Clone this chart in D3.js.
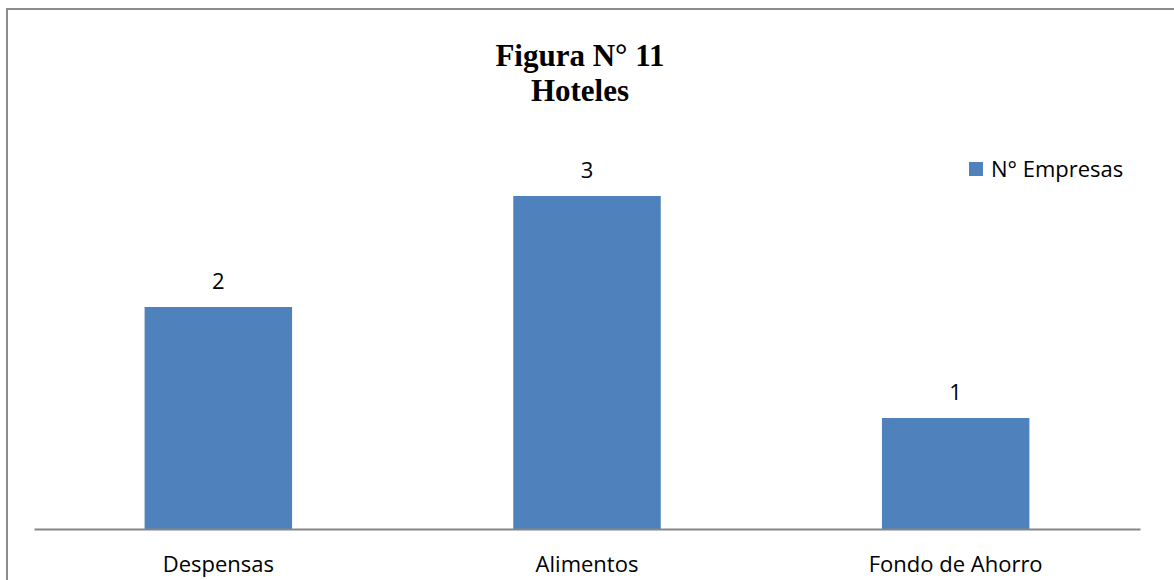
<!DOCTYPE html>
<html><head><meta charset="utf-8">
<script src="https://cdn.jsdelivr.net/npm/d3@7"></script>
<style>body{margin:0;background:#fff}</style>
</head><body>
<svg id="c" width="1174" height="580"></svg>
<script>
const categories = ["Despensas", "Alimentos", "Fondo de Ahorro"];
const values = [2, 3, 1];
const seriesName = "N° Empresas";
const titleLines = ["Figura N° 11", "Hoteles"];

const svg = d3.select("#c");
const font = "'Open Sans', sans-serif";
svg.append("rect").attr("x", 7).attr("y", 9).attr("width", 1180).attr("height", 600)
  .attr("fill", "#fff").attr("stroke", "#8c8c8c").attr("stroke-width", 2);

const x = d3.scaleBand().domain(categories).range([34, 1140]).paddingInner(0.6).paddingOuter(0.3);
const y = d3.scaleLinear().domain([0, 3.5]).range([529, 140.5]);

svg.selectAll(".bar").data(values).enter().append("rect")
  .attr("x", (d, i) => x(categories[i])).attr("width", x.bandwidth())
  .attr("y", d => y(d)).attr("height", d => y(0) - y(d)).attr("fill", "#4F81BD");

svg.selectAll(".lbl").data(values).enter().append("text")
  .attr("x", (d, i) => x(categories[i]) + x.bandwidth() / 2).attr("y", d => y(d) - 18)
  .attr("text-anchor", "middle").attr("font-family", font).attr("font-size", 22).attr("fill", "#000").text(d => d);

const ax = svg.append("g").attr("transform", "translate(0,529)")
  .call(d3.axisBottom(x).tickSize(0).tickPadding(27).tickSizeOuter(0));
ax.select(".domain").attr("stroke", "#868686").attr("stroke-width", 2);
ax.selectAll("text").attr("font-family", font).attr("font-size", 22).attr("fill", "#000");

svg.selectAll(".t").data(titleLines).enter().append("text")
  .attr("x", 580).attr("y", (d, i) => 66 + i * 35).attr("text-anchor", "middle")
  .attr("font-family", "'Liberation Serif', 'Times New Roman', serif").attr("font-weight", "bold")
  .attr("font-size", 31).text(d => d);

svg.append("rect").attr("x", 969).attr("y", 162).attr("width", 14).attr("height", 14).attr("fill", "#4F81BD");
svg.append("text").attr("x", 991).attr("y", 177).attr("font-family", font).attr("font-size", 22).text(seriesName);
</script>
</body></html>
